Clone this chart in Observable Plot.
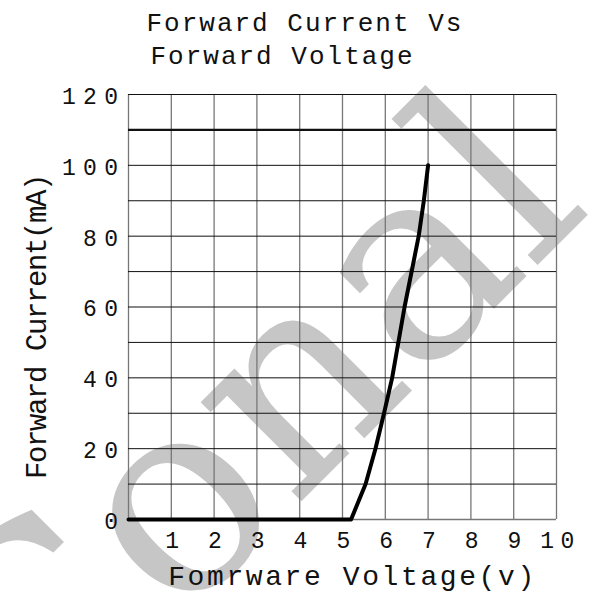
<!DOCTYPE html>
<html><head><meta charset="utf-8">
<script src="https://cdn.jsdelivr.net/npm/d3@7"></script>
<script src="https://cdn.jsdelivr.net/npm/@observablehq/plot@0.6"></script>
<style>body{margin:0;background:#fff}</style>
</head><body><div id="chart"></div>
<script>
const voltage = [0, 5.2, 5.37, 5.54, 5.77, 5.97, 6.16, 6.45, 6.78, 6.9, 7.0];
const current = [0, 0, 5, 10, 20, 30, 40, 60, 80, 90, 100];
const xTicks = [1, 2, 3, 4, 5, 6, 7, 8, 9, 10];
const yTicks = [0, 20, 40, 60, 80, 100, 120];
const xGrid = [0, 1, 2, 3, 4, 5, 6, 7, 8, 9, 10];
const yGrid = [10, 20, 30, 40, 50, 60, 70, 80, 90, 100, 120];
const yBase = [0];
const limitCurrent = [110];
const titleLine1 = ["Forward Current Vs"];
const titleLine2 = ["Forward Voltage"];
const xLabel = ["Fomrware Voltage(v)"];
const yLabel = ["Forward Current(mA)"];
const watermark = ["Conal"];

const data = voltage.map((v, k) => ({v, c: current[k]}));

const plot = Plot.plot({
  width: 592, height: 595,
  marginLeft: 128, marginRight: 36, marginTop: 94, marginBottom: 76,
  x: {domain: [0, 10]},
  y: {domain: [0, 120]},
  style: {fontFamily: "Liberation Mono", background: "#fff", color: "#111"},
  marks: [
    Plot.text(watermark, {frameAnchor: "middle", text: d => d, dx: -92, dy: 122, rotate: -45,
      textAnchor: "middle", fontSize: 272, fontFamily: "DejaVu Serif", fill: "#c6c6c6"}),
    Plot.ruleX(xGrid, {stroke: "#777", strokeWidth: 1.3}),
    Plot.ruleY(yGrid, {stroke: "#111", strokeWidth: 1}),
    Plot.ruleY(yBase, {stroke: "#777", strokeWidth: 1.3}),
    Plot.ruleY(limitCurrent, {stroke: "#111", strokeWidth: 2.2}),
    Plot.line(data, {x: "v", y: "c", stroke: "#000", strokeWidth: 4, strokeLinejoin: "round"}),
    Plot.axisX(xTicks, {tickSize: 0, tickPadding: 12, fontSize: 23, dx: 4, label: null, fill: "#111"}),
    Plot.axisY(yTicks, {tickSize: 0, tickPadding: 3, fontSize: 23, dy: 2, label: null, fill: "#111"}),
    Plot.text(titleLine1, {frameAnchor: "top-left", text: d => d, dx: 18, dy: -64, lineAnchor: "bottom",
      textAnchor: "start", fontSize: 26, fill: "#111"}),
    Plot.text(titleLine2, {frameAnchor: "top-left", text: d => d, dx: 22, dy: -31, lineAnchor: "bottom",
      textAnchor: "start", fontSize: 26, fill: "#111"}),
    Plot.text(xLabel, {frameAnchor: "bottom", text: d => d, dx: 10, dy: 65, lineAnchor: "bottom",
      textAnchor: "middle", fontSize: 28, fill: "#111"}),
    Plot.text(yLabel, {frameAnchor: "left", text: d => d, dx: -83, dy: 20, rotate: -90, lineAnchor: "bottom",
      textAnchor: "middle", fontSize: 29, fill: "#111"})
  ]
});

const s = d3.select(plot);
s.selectAll('g[aria-label="y-axis tick label"] text').style("letter-spacing", "7.4px");
s.selectAll('g[aria-label="x-axis tick label"] text').style("letter-spacing", "6.4px");
const spacing = new Map([
  [titleLine1[0], "2px"], [titleLine2[0], "2px"], [xLabel[0], "2.6px"], [yLabel[0], "-1.4px"]
]);
s.selectAll("text").each(function() {
  const t = this.textContent;
  if (spacing.has(t)) this.style.letterSpacing = spacing.get(t);
});
document.getElementById("chart").appendChild(plot);
</script>
</body></html>
